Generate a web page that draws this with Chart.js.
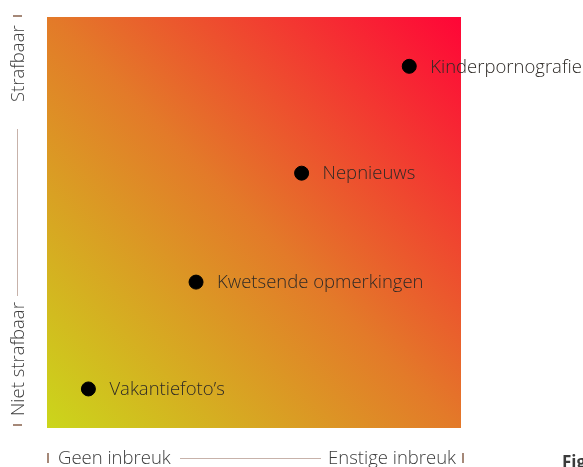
<!DOCTYPE html>
<html lang="nl">
<head>
<meta charset="UTF-8">
<title>Strafbaarheid vs inbreuk</title>
<script src="https://cdn.jsdelivr.net/npm/chart.js"></script>
<style>
  html, body { margin: 0; padding: 0; background: #fff; }
  body { width: 583px; height: 467px; position: relative; overflow: hidden; font-family: "Open Sans", sans-serif; }
  #wrap { position: absolute; left: 0; top: 0; width: 583px; height: 467px; }
  .ax { position: absolute; color: #3c3c3c; font-size: 18.5px; font-weight: 300; white-space: nowrap; line-height: 1; }
  .tick { position: absolute; background: #a58878; }
  .rule { position: absolute; background: #c7b2aa; }
  .vert { transform: rotate(-90deg); transform-origin: left top; }
  #fig { position: absolute; left: 562px; top: 450px; font-size: 17px; font-weight: 700; color: #3b3b3b; }
</style>
</head>
<body>
<div id="wrap"><canvas id="chart" width="583" height="467"></canvas></div>

<!-- bottom axis -->
<div class="tick" style="left:47px; top:453px; width:2px; height:10px;"></div>
<div class="ax" style="left:58px; top:448px;">Geen inbreuk</div>
<div class="rule" style="left:180px; top:458px; width:141px; height:1px;"></div>
<div class="ax" style="left:328px; top:448px;">Enstige inbreuk</div>
<div class="tick" style="left:462px; top:453px; width:2px; height:10px;"></div>

<!-- left axis -->
<div class="tick" style="left:13px; top:424px; width:9px; height:2px;"></div>
<div class="ax vert" style="left:8px; top:416px;">Niet strafbaar</div>
<div class="rule" style="left:17px; top:129px; width:1px; height:167px;"></div>
<div class="ax vert" style="left:8px; top:102px;">Strafbaar</div>
<div class="tick" style="left:13px; top:15px; width:9px; height:2px;"></div>

<div id="fig">Fig</div>

<script>
  const categories = ['Vakantiefoto’s', 'Kwetsende opmerkingen', 'Nepnieuws', 'Kinderpornografie']
  const inbreuk = [1.0, 3.6, 6.15, 8.75]
  const strafbaar = [0.95, 3.55, 6.2, 8.8]
  const axisTicks = [0, 10]

  const points = categories.map((c, i) => ({ x: inbreuk[i], y: strafbaar[i], label: c }))

  const bgGradient = {
    id: 'bgGradient',
    beforeDraw (chart) {
      const { ctx, chartArea: a } = chart
      const g = ctx.createLinearGradient(a.left, a.bottom, a.right, a.top)
      g.addColorStop(0, '#cbd61b')
      g.addColorStop(0.5, '#e37a29')
      g.addColorStop(1, '#ff0537')
      ctx.save()
      ctx.fillStyle = g
      ctx.fillRect(a.left, a.top, a.right - a.left, a.bottom - a.top)
      ctx.restore()
    }
  }

  const pointLabels = {
    id: 'pointLabels',
    afterDatasetsDraw (chart) {
      const { ctx } = chart
      const meta = chart.getDatasetMeta(0)
      ctx.save()
      ctx.font = '300 18.5px "Open Sans", sans-serif'
      ctx.fillStyle = '#2e2a26'
      ctx.textBaseline = 'middle'
      meta.data.forEach((el, i) => {
        ctx.fillText(points[i].label, el.x + 21, el.y + 1)
      })
      ctx.restore()
    }
  }

  new Chart(document.getElementById('chart').getContext('2d'), {
    type: 'scatter',
    data: {
      datasets: [{
        data: points,
        backgroundColor: '#000',
        borderColor: '#000',
        pointRadius: 7,
        pointHoverRadius: 7
      }]
    },
    options: {
      responsive: false,
      animation: false,
      layout: { padding: { left: 47, top: 17, right: 122, bottom: 39 } },
      scales: {
        x: { min: axisTicks[0], max: axisTicks[1], display: false },
        y: { min: axisTicks[0], max: axisTicks[1], display: false }
      },
      plugins: { legend: { display: false }, tooltip: { enabled: false } }
    },
    plugins: [bgGradient, pointLabels]
  })
</script>
</body>
</html>
